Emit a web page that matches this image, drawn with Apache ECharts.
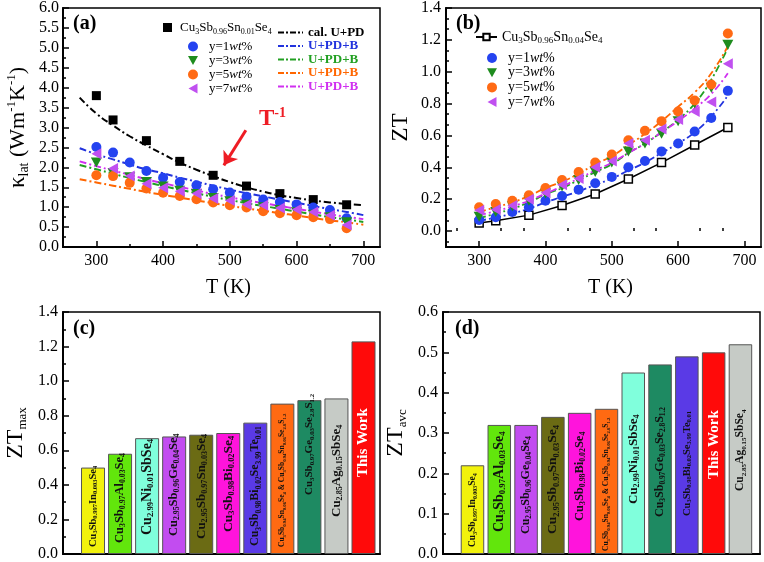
<!DOCTYPE html>
<html><head><meta charset="utf-8">
<script src="https://cdn.jsdelivr.net/npm/echarts@6/dist/echarts.min.js"></script>
<style>html,body{margin:0;padding:0;background:#fff}#c{width:764px;height:562px}</style>
</head><body><div id="c"></div>
<script>
// ================= DATA =================
// Panel (a): lattice thermal conductivity
const refNameA = 'Cu3Sb0.96Sn0.01Se4';
const T_a_ref = [300,325,375,425,475,525,575,625,675];
const kap_ref = [3.80,3.19,2.67,2.15,1.80,1.53,1.34,1.19,1.06];
const T_a = [300,325,350,375,400,425,450,475,500,525,550,575,600,625,650,675];
const kap_y1 = [2.51,2.37,2.12,1.91,1.74,1.63,1.55,1.45,1.37,1.26,1.19,1.13,1.07,0.99,0.93,0.72];
const kap_y3 = [2.12,1.86,1.75,1.63,1.52,1.41,1.33,1.23,1.15,1.06,1.00,0.93,0.87,0.81,0.75,0.62];
const kap_y5 = [1.80,1.78,1.61,1.47,1.36,1.28,1.20,1.12,1.05,0.99,0.90,0.85,0.80,0.75,0.70,0.47];
const kap_y7 = [2.34,1.97,1.78,1.59,1.49,1.40,1.34,1.22,1.17,1.07,1.05,0.98,0.94,0.88,0.80,0.55];
const T_fit_a = [275,300,325,350,375,400,425,450,475,500,525,550,575,600,625,650,675,700];
const fit_cal = [3.75,3.35,3.05,2.78,2.55,2.33,2.12,1.94,1.78,1.63,1.50,1.39,1.30,1.23,1.17,1.12,1.08,1.05];
const fit_a1  = [2.48,2.33,2.20,2.07,1.95,1.85,1.74,1.64,1.54,1.44,1.35,1.27,1.19,1.11,1.03,0.95,0.88,0.80];
const fit_a3  = [2.06,1.95,1.84,1.73,1.63,1.53,1.44,1.35,1.26,1.18,1.10,1.03,0.96,0.89,0.82,0.75,0.69,0.63];
const fit_a5  = [1.70,1.62,1.54,1.46,1.38,1.31,1.24,1.17,1.10,1.03,0.97,0.91,0.85,0.79,0.73,0.67,0.62,0.56];
const fit_a7  = [2.15,2.03,1.92,1.81,1.70,1.60,1.51,1.42,1.33,1.25,1.17,1.10,1.03,0.96,0.89,0.82,0.76,0.70];
const arrowFrom = [524, 2.93], arrowTo = [491, 2.05];

// Panel (b): ZT
const refNameB = 'Cu3Sb0.96Sn0.04Se4';
const T_b_ref = [300,325,375,425,475,525,575,625,675];
const zt_ref = [0.05,0.065,0.10,0.16,0.233,0.327,0.43,0.54,0.65];
const T_b = [300,325,350,375,400,425,450,475,500,525,550,575,600,625,650,675];
const zt_y1 = [0.07,0.087,0.12,0.15,0.19,0.22,0.26,0.30,0.34,0.40,0.44,0.50,0.55,0.625,0.71,0.88];
const zt_y3 = [0.09,0.12,0.155,0.19,0.235,0.28,0.32,0.37,0.43,0.50,0.55,0.61,0.69,0.80,0.90,1.17];
const zt_y5 = [0.15,0.17,0.19,0.225,0.27,0.32,0.37,0.43,0.48,0.57,0.63,0.69,0.75,0.82,0.92,1.24];
const zt_y7 = [0.13,0.135,0.16,0.20,0.24,0.29,0.33,0.40,0.44,0.55,0.57,0.64,0.70,0.75,0.81,1.05];
const fit_b1 = [0.065,0.085,0.11,0.14,0.18,0.215,0.25,0.29,0.33,0.38,0.43,0.49,0.55,0.62,0.72,0.85];
const fit_b3 = [0.08,0.11,0.14,0.18,0.23,0.27,0.32,0.37,0.42,0.49,0.55,0.62,0.70,0.80,0.95,1.15];
const fit_b5 = [0.12,0.15,0.18,0.22,0.27,0.31,0.36,0.42,0.47,0.54,0.61,0.69,0.78,0.87,0.99,1.16];
const fit_b7 = [0.10,0.125,0.155,0.19,0.235,0.28,0.33,0.38,0.43,0.49,0.55,0.62,0.69,0.77,0.86,0.99];

// Panel (c): ZTmax
const catC = ['Cu3Sb0.997In0.003Se4','Cu3Sb0.97Al0.03Se4','Cu2.99Ni0.01SbSe4','Cu2.95Sb0.96Ge0.04Se4',
  'Cu2.95Sb0.97Sn0.03Se4','Cu3Sb0.98Bi0.02Se4','Cu3Sb0.98Bi0.02Se3.99Te0.01',
  'Cu3Sb0.94Sn0.06Se4 & Cu3Sb0.94Sn0.06Se2.8S1.2','Cu3Sb0.97Ge0.03Se2.8S1.2','Cu2.85Ag0.15SbSe4','This Work'];
const ztmax = [0.50,0.58,0.67,0.68,0.69,0.70,0.76,0.87,0.89,0.90,1.23];
// Panel (d): ZTavc
const catD = ['Cu3Sb0.997In0.003Se4','Cu3Sb0.97Al0.03Se4','Cu2.95Sb0.96Ge0.04Se4','Cu2.95Sb0.97Sn0.03Se4',
  'Cu3Sb0.98Bi0.02Se4','Cu3Sb0.94Sn0.06Se4 & Cu3Sb0.94Sn0.06Se2.8S1.2','Cu2.99Ni0.01SbSe4',
  'Cu3Sb0.97Ge0.03Se2.8S1.2','Cu3Sb0.98Bi0.02Se3.99Te0.01','This Work','Cu2.85Ag0.15SbSe4'];
const ztavc = [0.22,0.32,0.32,0.34,0.35,0.36,0.45,0.47,0.49,0.50,0.52];

// tick values
const xMajor = [300,400,500,600,700];
const xMinorA = [350,450,550,650];
const xMinorB = [266.7,333.3,366.7,433.3,466.7,533.3,566.7,633.3,666.7];
const yMajorB = [0,0.2,0.4,0.6,0.8,1.0,1.2,1.4];
const yMinorB = [-0.0667,0.0667,0.1333,0.2667,0.3333,0.4667,0.5333,0.6667,0.7333,0.8667,0.9333,1.0667,1.1333,1.2667,1.3333];

// ================= STYLE =================
const FF = '"Liberation Serif","Times New Roman",serif';
const C = {blue:'#2443f0', green:'#1e8c1e', orange:'#ff6a14', violet:'#c050f0',
  lblue:'#2233dd', lgreen:'#22a022', lorange:'#ff6600', lviolet:'#d030f0', red:'#ee1c24'};
const TRI_DOWN = 'path://M0,0L10,0L5,9Z';
const TRI_LEFT = 'path://M9,0L9,10L0,5Z';
const DASHDOT_ICON = 'path://M0,0h6v2h-6zM8,0h2v2h-2zM12,0h6v2h-6zM20,0h2v2h-2zM24,0h1v2h-1z';
const barColor = {
  'Cu3Sb0.997In0.003Se4':'#f2f20c','Cu3Sb0.97Al0.03Se4':'#62e60c','Cu2.99Ni0.01SbSe4':'#80ffdc',
  'Cu2.95Sb0.96Ge0.04Se4':'#c24cf0','Cu2.95Sb0.97Sn0.03Se4':'#6b6b14','Cu3Sb0.98Bi0.02Se4':'#ff14dc',
  'Cu3Sb0.98Bi0.02Se3.99Te0.01':'#5a3ae6','Cu3Sb0.94Sn0.06Se4 & Cu3Sb0.94Sn0.06Se2.8S1.2':'#ff6a12',
  'Cu3Sb0.97Ge0.03Se2.8S1.2':'#1e8a62','Cu2.85Ag0.15SbSe4':'#c6cbc6','This Work':'#ff0a0a'};
const sizeC = [10.5,12.5,14,12.5,13,13.5,12,7.5,11,13,15];
const distC = [7,11,19,18,15,22,8,7,59,37,77];
const sizeD = [9.5,14,12,13.5,12.5,7.5,13,12,10.5,15,11.5];
const distD = [7,22,20,20,33,3,50,37,38,75,63];

const dashDot = [7,3,2,3];

function chem(s, m, sb){
  return s.split(/(\d+(?:\.\d+)?)/).filter(t=>t!=='').map(t=>/^\d/.test(t)?'{'+sb+'|'+t+'}':'{'+m+'|'+t+'}').join('');
}
function pairs(xs, ys){ return xs.map((x,i)=>[x, ys[i]]); }

const subStyle = (fs)=>({fontSize:fs, lineHeight:Math.max(4,fs-3), verticalAlign:'bottom', fontFamily:FF});

const legendMap = {
  a_ref: chem(refNameA,'m','s'),
  a_y1: '{m|y=1}{i|wt}{m|%}', a_y3: '{m|y=3}{i|wt}{m|%}', a_y5: '{m|y=5}{i|wt}{m|%}', a_y7: '{m|y=7}{i|wt}{m|%}',
  a_cal: '{b|cal. U+PD}', a_f1: '{b|U+PD+B}', a_f3: '{b|U+PD+B}', a_f5: '{b|U+PD+B}', a_f7: '{b|U+PD+B}',
  b_ref: chem(refNameB,'m','s'),
  b_y1: '{m|y=1}{i|wt}{m|%}', b_y3: '{m|y=3}{i|wt}{m|%}', b_y5: '{m|y=5}{i|wt}{m|%}', b_y7: '{m|y=7}{i|wt}{m|%}'
};
function legRich(fs, lh){
  return {m:{fontSize:fs, lineHeight:lh, fontFamily:FF}, s:subStyle(fs-5),
    i:{fontSize:fs, lineHeight:lh, fontStyle:'italic', fontFamily:FF},
    b:{fontSize:fs, lineHeight:lh, fontWeight:'bold', fontFamily:FF}};
}
function legend(data, left, top, iw, ih, gap, fs, lh, padL){
  return {data, left, top, orient:'vertical', itemWidth:iw, itemHeight:ih, itemGap:gap, padding:0,
    selectedMode:false, formatter:(n)=>legendMap[n],
    textStyle:{fontFamily:FF, fontSize:fs, color:'#000', padding:[0,0,0,padL||0], rich:legRich(fs, lh)}};
}

function valAxisCommon(){
  return {
    axisLine:{show:true, onZero:false, lineStyle:{color:'#000', width:2}},
    axisTick:{show:true, inside:true, length:6, lineStyle:{color:'#000', width:1.5}},
    axisLabel:{color:'#000', fontFamily:FF, fontSize:16},
    splitLine:{show:false}
  };
}

// ================= OPTION =================
const grids = [
  {left:63, top:7, width:317, height:240},
  {left:446, top:7, width:315, height:240},
  {left:63, top:312, width:317, height:242},
  {left:443, top:312, width:317, height:243}
].map(g=>Object.assign(g,{show:true, borderColor:'#000', borderWidth:1.5, containLabel:false}));

const xAxes = [
  Object.assign(valAxisCommon(), {gridIndex:0, type:'value', min:250, max:725, position:'bottom',
    name:'T (K)', nameLocation:'middle', nameGap:31, nameTextStyle:{fontFamily:FF, fontSize:20, color:'#000', padding:[0,0,0,14]},
    axisLabel:{color:'#000', fontFamily:FF, fontSize:16, margin:6, customValues:xMajor},
    axisTick:{show:true, inside:true, length:6, lineStyle:{color:'#000', width:1.5}, customValues:xMajor}}),
  {gridIndex:0, type:'value', min:250, max:725, position:'bottom', axisLine:{show:false}, axisLabel:{show:false}, splitLine:{show:false},
    axisTick:{show:true, inside:true, length:3, lineStyle:{color:'#000', width:1.5}, customValues:xMinorA}},
  Object.assign(valAxisCommon(), {gridIndex:1, type:'value', min:250, max:725, position:'bottom',
    name:'T (K)', nameLocation:'middle', nameGap:31, nameTextStyle:{fontFamily:FF, fontSize:20, color:'#000', padding:[0,0,0,14]},
    axisLabel:{color:'#000', fontFamily:FF, fontSize:16, margin:6, customValues:xMajor},
    axisTick:{show:true, inside:true, length:6, lineStyle:{color:'#000', width:1.5}, customValues:xMajor}}),
  {gridIndex:1, type:'value', min:250, max:725, position:'bottom', axisLine:{show:false}, axisLabel:{show:false}, splitLine:{show:false},
    axisTick:{show:true, inside:true, length:3, lineStyle:{color:'#000', width:1.5}, customValues:xMinorB}},
  {gridIndex:2, type:'value', min:-1.11, max:10.61, position:'bottom', axisLine:{show:true, lineStyle:{color:'#000', width:2}},
    axisTick:{show:false}, axisLabel:{show:false}, splitLine:{show:false}},
  {gridIndex:3, type:'value', min:-1.1, max:10.73, position:'bottom', axisLine:{show:true, lineStyle:{color:'#000', width:2}},
    axisTick:{show:false}, axisLabel:{show:false}, splitLine:{show:false}}
];

const yAxes = [
  Object.assign(valAxisCommon(), {gridIndex:0, type:'value', min:0, max:6, interval:0.5, position:'left',
    name:'{k|κ}{s|lat}{n| (Wm}{p|-1}{n|K}{p|-1}{n|)}', nameLocation:'middle', nameGap:32, nameRotate:90,
    nameTextStyle:{fontFamily:FF, color:'#000', rich:{
      k:{fontSize:23, lineHeight:26, fontFamily:FF}, n:{fontSize:22, lineHeight:26, fontFamily:FF},
      s:{fontSize:14, lineHeight:10, verticalAlign:'bottom', fontFamily:FF},
      p:{fontSize:13, lineHeight:10, verticalAlign:'top', fontFamily:FF}}},
    axisLabel:{color:'#000', fontFamily:FF, fontSize:16, margin:4, formatter:v=>v.toFixed(1)},
    minorTick:{show:true, splitNumber:2, length:3, lineStyle:{color:'#000', width:1.5}}}),
  Object.assign(valAxisCommon(), {gridIndex:1, type:'value', min:-0.1, max:1.4, position:'left',
    name:'ZT', nameLocation:'middle', nameGap:34, nameRotate:90,
    nameTextStyle:{fontFamily:FF, fontSize:23, color:'#000'},
    axisLabel:{color:'#000', fontFamily:FF, fontSize:16, margin:5, customValues:yMajorB, formatter:v=>v.toFixed(1)},
    axisTick:{show:true, inside:true, length:6, lineStyle:{color:'#000', width:1.5}, customValues:yMajorB}}),
  {gridIndex:1, type:'value', min:-0.1, max:1.4, position:'left', axisLine:{show:false}, axisLabel:{show:false}, splitLine:{show:false},
    axisTick:{show:true, inside:true, length:3, lineStyle:{color:'#000', width:1.5}, customValues:yMinorB}},
  Object.assign(valAxisCommon(), {gridIndex:2, type:'value', min:0, max:1.4, interval:0.2, position:'left',
    name:'{n|ZT}{s|max}', nameLocation:'middle', nameGap:34, nameRotate:90,
    nameTextStyle:{fontFamily:FF, color:'#000', rich:{n:{fontSize:24, lineHeight:26, fontFamily:FF}, s:{fontSize:13, lineHeight:10, verticalAlign:'bottom', fontFamily:FF}}},
    axisLabel:{color:'#000', fontFamily:FF, fontSize:16, margin:5, formatter:v=>v.toFixed(1)},
    minorTick:{show:true, splitNumber:2, length:3, lineStyle:{color:'#000', width:1.5}}}),
  Object.assign(valAxisCommon(), {gridIndex:3, type:'value', min:0, max:0.6, interval:0.1, position:'left',
    name:'{n|ZT}{s|avc}', nameLocation:'middle', nameGap:34, nameRotate:90,
    nameTextStyle:{fontFamily:FF, color:'#000', rich:{n:{fontSize:24, lineHeight:26, fontFamily:FF}, s:{fontSize:13, lineHeight:10, verticalAlign:'bottom', fontFamily:FF}}},
    axisLabel:{color:'#000', fontFamily:FF, fontSize:16, margin:5, formatter:v=>v.toFixed(1)},
    minorTick:{show:true, splitNumber:2, length:3, lineStyle:{color:'#000', width:1.5}}})
];

function fitLine(name, xs, ys, color, xi, yi, w){
  return {name, type:'line', xAxisIndex:xi, yAxisIndex:yi, data:pairs(xs, ys), smooth:true, symbol:'none',
    lineStyle:{color, width:w||2, type:dashDot}, itemStyle:{color}, silent:true, z:2};
}
function scat(name, xs, ys, color, symbol, size, xi, yi){
  return {name, type:'scatter', xAxisIndex:xi, yAxisIndex:yi, data:pairs(xs, ys), symbol, symbolSize:size,
    itemStyle:{color, opacity:1}, silent:true, z:3};
}

function barSeries(cats, vals, sizes, dists, xi, yi, bw){
  const rich = {};
  sizes.forEach((fs,i)=>{
    rich['m'+i] = {fontSize:fs, fontWeight:'bold', fontFamily:FF, lineHeight:fs+2};
    rich['s'+i] = {fontSize:Math.round(fs*0.62*10)/10, fontWeight:'bold', fontFamily:FF, lineHeight:Math.max(3,fs*0.62-2), verticalAlign:'bottom'};
  });
  return {type:'bar', xAxisIndex:xi, yAxisIndex:yi, barWidth:bw, silent:true,
    data: cats.map((c,i)=>({value:[i, vals[i]],
      itemStyle:{color:barColor[c], borderColor:'#555', borderWidth:1},
      label:{distance:dists[i], color: c==='This Work' ? '#fff' : '#111'}})),
    label:{show:true, position:'insideBottom', rotate:90, align:'left', verticalAlign:'middle',
      fontFamily:FF, fontWeight:'bold', rich,
      formatter:(p)=>chem(cats[p.dataIndex],'m'+p.dataIndex,'s'+p.dataIndex)}};
}

const calSeries = fitLine('a_cal', T_fit_a, fit_cal, '#000', 0, 0);
calSeries.markLine = {silent:true, symbol:['none','arrow'], symbolSize:13, animation:false,
  lineStyle:{color:C.red, width:3, type:'solid'}, label:{show:false},
  data:[[{coord:arrowFrom},{coord:arrowTo}]]};

const series = [
  calSeries,
  fitLine('a_f1', T_fit_a, fit_a1, C.lblue, 0, 0),
  fitLine('a_f3', T_fit_a, fit_a3, C.lgreen, 0, 0),
  fitLine('a_f5', T_fit_a, fit_a5, C.lorange, 0, 0),
  fitLine('a_f7', T_fit_a, fit_a7, C.lviolet, 0, 0),
  scat('a_ref', T_a_ref, kap_ref, '#000', 'rect', 9, 0, 0),
  scat('a_y1', T_a, kap_y1, C.blue, 'circle', 10, 0, 0),
  scat('a_y3', T_a, kap_y3, C.green, TRI_DOWN, [11,10], 0, 0),
  scat('a_y5', T_a, kap_y5, C.orange, 'circle', 10, 0, 0),
  scat('a_y7', T_a, kap_y7, C.violet, TRI_LEFT, [10,11], 0, 0),

  fitLine('b_f1', T_b, fit_b1, C.lblue, 2, 1, 1.8),
  fitLine('b_f3', T_b, fit_b3, C.lgreen, 2, 1, 1.8),
  fitLine('b_f5', T_b, fit_b5, C.lorange, 2, 1, 1.8),
  fitLine('b_f7', T_b, fit_b7, C.lviolet, 2, 1, 1.8),
  {name:'b_ref', type:'line', xAxisIndex:2, yAxisIndex:1, data:pairs(T_b_ref, zt_ref), smooth:false,
    symbol:'rect', symbolSize:8, lineStyle:{color:'#000', width:1.5}, itemStyle:{color:'#fff', borderColor:'#000', borderWidth:1.5}, silent:true, z:3},
  scat('b_y1', T_b, zt_y1, C.blue, 'circle', 10, 2, 1),
  scat('b_y3', T_b, zt_y3, C.green, TRI_DOWN, [11,10], 2, 1),
  scat('b_y5', T_b, zt_y5, C.orange, 'circle', 10, 2, 1),
  scat('b_y7', T_b, zt_y7, C.violet, TRI_LEFT, [10,11], 2, 1),

  barSeries(catC, ztmax, sizeC, distC, 4, 3, 24),
  barSeries(catD, ztavc, sizeD, distD, 5, 4, 23.5)
];

const lineLeg = (name, color)=>({name, icon:DASHDOT_ICON, textStyle:{color}});
const legends = [
  legend(['a_ref'], 163, 21, 9, 9, 0, 13, 16, 3),
  legend(['a_y1','a_y3','a_y5','a_y7'], 188, 40, 10, 10, 1, 13, 15, 6),
  legend([lineLeg('a_cal','#000'), lineLeg('a_f1',C.lblue), lineLeg('a_f3',C.lgreen), lineLeg('a_f5',C.lorange), lineLeg('a_f7',C.lviolet)],
    278, 26, 25, 2, 0.5, 13, 15, 0),
  legend(['b_ref'], 475, 30, 21, 8, 0, 14, 16, 0),
  legend(['b_y1','b_y3','b_y5','b_y7'], 487, 51, 10, 10, 0.7, 14, 16, 6)
];

const panelText = (t, x, y)=>({type:'text', left:x, top:y, z:100, silent:true,
  style:{text:t, font:'bold 20px '+FF, fill:'#000'}});

const option = {
  animation:false,
  backgroundColor:'#fff',
  grid:grids, xAxis:xAxes, yAxis:yAxes, legend:legends, series,
  graphic:[
    panelText('(a)', 73, 14), panelText('(b)', 456, 14), panelText('(c)', 73, 319), panelText('(d)', 455, 319),
    {type:'text', left:259, top:106, z:100, silent:true,
      style:{text:'{t|T}{p|-1}', rich:{
        t:{fontSize:23, fontWeight:'bold', fontFamily:FF, fill:C.red, lineHeight:26},
        p:{fontSize:14, fontWeight:'bold', fontFamily:FF, fill:C.red, lineHeight:12, verticalAlign:'top'}}}}
  ]
};

const chart = echarts.init(document.getElementById('c'), null, {renderer:'canvas'});
chart.setOption(option);
</script>
</body></html>
